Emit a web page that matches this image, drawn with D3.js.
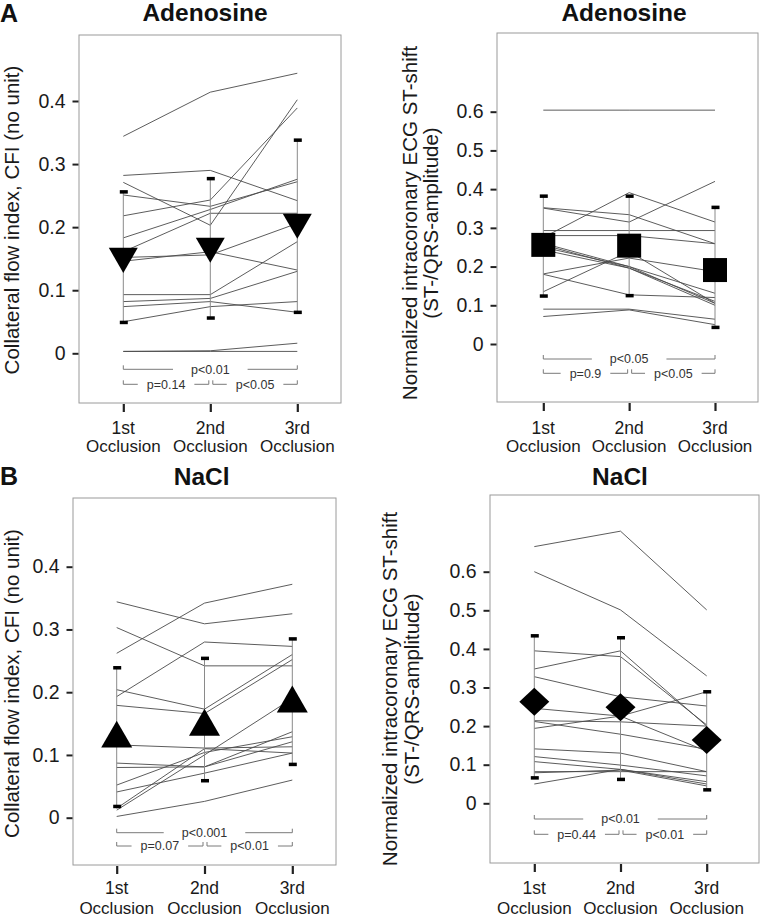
<!DOCTYPE html>
<html><head><meta charset="utf-8">
<script src="https://cdn.jsdelivr.net/npm/d3@7"></script>
<style>
html,body{margin:0;padding:0;background:#fff;}
svg{display:block;font-family:"Liberation Sans",Arial,Helvetica,sans-serif;}
</style></head>
<body>
<svg id="c" width="760" height="919"></svg>
<script>
// ---------- DATA ----------
const categories = ["1st", "2nd", "3rd"];
const catSubLabel = "Occlusion";

const cfiTicks = [0, 0.1, 0.2, 0.3, 0.4];
const stTicks = [0, 0.1, 0.2, 0.3, 0.4, 0.5, 0.6];

// Adenosine – collateral flow index, each row = one patient (1st, 2nd, 3rd occlusion)
const adoCFI = [
  [0.344, 0.414, 0.444],
  [0.282, 0.290, 0.242],
  [0.271, 0.203, 0.402],
  [0.251, 0.233, 0.272],
  [0.218, 0.243, 0.389],
  [0.183, 0.228, 0.276],
  [0.161, 0.222, 0.222],
  [0.146, 0.161, 0.132],
  [0.152, 0.156, 0.206],
  [0.093, 0.093, 0.177],
  [0.082, 0.087, 0.130],
  [0.074, 0.082, 0.065],
  [0.050, 0.074, 0.082],
  [0.003, 0.003, 0.003],
  [0.003, 0.004, 0.016]
];
const adoCFIMean = [0.154, 0.170, 0.208];
const adoCFILow  = [0.049, 0.056, 0.065];
const adoCFIHigh = [0.256, 0.277, 0.338];
const adoCFIp = ["p<0.01", "p=0.14", "p<0.05"];

// Adenosine – ECG ST-shift
const adoST = [
  [0.604, 0.604, 0.604],
  [0.352, 0.334, 0.259],
  [0.351, 0.315, 0.420],
  [0.275, 0.391, 0.315],
  [0.293, 0.293, 0.293],
  [0.280, 0.280, 0.259],
  [0.260, 0.200, 0.131],
  [0.256, 0.196, 0.110],
  [0.250, 0.200, 0.105],
  [0.243, 0.196, 0.100],
  [0.181, 0.222, 0.187],
  [0.180, 0.127, 0.120],
  [0.135, 0.239, 0.105],
  [0.090, 0.090, 0.064],
  [0.071, 0.088, 0.050]
];
const adoSTMean = [0.256, 0.254, 0.191];
const adoSTLow  = [0.124, 0.125, 0.043];
const adoSTHigh = [0.382, 0.382, 0.353];
const adoSTp = ["p<0.05", "p=0.9", "p<0.05"];

// NaCl – collateral flow index
const naclCFI = [
  [0.344, 0.309, 0.325],
  [0.262, 0.342, 0.372],
  [0.303, 0.242, 0.242],
  [0.193, 0.280, 0.273],
  [0.204, 0.173, 0.260],
  [0.179, 0.166, 0.252],
  [0.116, 0.111, 0.113],
  [0.087, 0.081, 0.137],
  [0.080, 0.081, 0.121],
  [0.052, 0.104, 0.129],
  [0.041, 0.071, 0.103],
  [0.012, 0.100, 0.190],
  [0.015, 0.110, 0.103],
  [0.002, 0.026, 0.060]
];
const naclCFIMean = [0.126, 0.145, 0.182];
const naclCFILow  = [0.018, 0.059, 0.085];
const naclCFIHigh = [0.239, 0.254, 0.285];
const naclCFIp = ["p<0.001", "p=0.07", "p<0.01"];

// NaCl – ECG ST-shift
const naclST = [
  [0.665, 0.705, 0.501],
  [0.600, 0.501, 0.330],
  [0.395, 0.380, 0.203],
  [0.348, 0.395, 0.200],
  [0.328, 0.276, 0.252],
  [0.246, 0.226, 0.135],
  [0.214, 0.211, 0.200],
  [0.212, 0.179, 0.140],
  [0.194, 0.226, 0.289],
  [0.141, 0.130, 0.082],
  [0.121, 0.099, 0.071],
  [0.108, 0.088, 0.050],
  [0.082, 0.082, 0.082],
  [0.079, 0.086, 0.045],
  [0.050, 0.088, 0.056]
];
const naclSTMean = [0.263, 0.249, 0.164];
const naclSTLow  = [0.066, 0.062, 0.035];
const naclSTHigh = [0.434, 0.429, 0.289];
const naclSTp = ["p<0.01", "p=0.44", "p<0.01"];

const cfiLabel = ["Collateral flow index, CFI (no unit)"];
const stLabel = ["Normalized intracoronary ECG ST-shift", "(ST-/QRS-amplitude)"];

// ---------- LAYOUT ----------
const panels = [
  { letter: "A", title: "Adenosine", lines: adoCFI, mean: adoCFIMean, low: adoCFILow, high: adoCFIHigh, p: adoCFIp,
    ticks: cfiTicks, label: cfiLabel, marker: "tridown", markerSize: 29,
    frame: [79, 35, 341, 403], y0: 353.3, yTop: 101, yTopVal: 0.4, x: [123.3, 297.3],
    titleX: 205, titleY: 21, letterX: 0, letterY: 21.5, labelX: [18.5], labelY: 220,
    pRows: [369.3, 384.3], xl: [433.5, 452] },
  { title: "Adenosine", lines: adoST, mean: adoSTMean, low: adoSTLow, high: adoSTHigh, p: adoSTp,
    ticks: stTicks, label: stLabel, marker: "square", markerSize: 24,
    frame: [497, 33, 758, 402], y0: 344, yTop: 111.7, yTopVal: 0.6, x: [543.3, 715],
    titleX: 624, titleY: 21, labelX: [416.5, 437.5], labelY: 223,
    pRows: [359, 373.3], xl: [433.5, 452] },
  { letter: "B", title: "NaCl", lines: naclCFI, mean: naclCFIMean, low: naclCFILow, high: naclCFIHigh, p: naclCFIp,
    ticks: cfiTicks, label: cfiLabel, marker: "triup", markerSize: 31,
    frame: [73, 498, 336, 865], y0: 817.7, yTop: 566.7, yTopVal: 0.4, x: [116.7, 292.3],
    titleX: 201.7, titleY: 484.5, letterX: 0, letterY: 485, labelX: [18.5], labelY: 683.5,
    pRows: [832.7, 846], xl: [894, 913.5] },
  { title: "NaCl", lines: naclST, mean: naclSTMean, low: naclSTLow, high: naclSTHigh, p: naclSTp,
    ticks: stTicks, label: stLabel, marker: "diamond", markerSize: 30,
    frame: [490, 495, 759, 863], y0: 803.3, yTop: 571.7, yTopVal: 0.6, x: [534.3, 706.7],
    titleX: 620, titleY: 485, labelX: [396.5, 418.5], labelY: 689,
    pRows: [819, 834.3], xl: [893.5, 913.5] }
];

const svg = d3.select("#c");

function markerPath(type, s) {
  if (type === "tridown" || type === "triup") {
    const h = s * Math.sqrt(3) / 2;
    const p = d3.path();
    if (type === "tridown") {
      p.moveTo(-s / 2, -h / 3); p.lineTo(s / 2, -h / 3); p.lineTo(0, 2 * h / 3);
    } else {
      p.moveTo(0, -2 * h / 3); p.lineTo(s / 2, h / 3); p.lineTo(-s / 2, h / 3);
    }
    p.closePath();
    return p.toString();
  }
  if (type === "square") {
    const p = d3.path(); p.rect(-s / 2, -s / 2, s, s); return p.toString();
  }
  const p = d3.path();
  p.moveTo(0, -s / 2 + 1); p.lineTo(s / 2, 0); p.lineTo(0, s / 2 - 1); p.lineTo(-s / 2, 0); p.closePath();
  return p.toString();
}

panels.forEach(P => {
  const [fx0, fy0, fx1, fy1] = P.frame;
  const x = d3.scalePoint().domain(categories).range(P.x);
  const y = d3.scaleLinear().domain([0, P.yTopVal]).range([P.y0, P.yTop]);
  const g = svg.append("g");

  // frame
  g.append("rect").attr("x", fx0).attr("y", fy0).attr("width", fx1 - fx0).attr("height", fy1 - fy0)
    .attr("fill", "none").attr("stroke", "#9a9a9a").attr("stroke-width", 1);

  // y axis
  const yAxis = d3.axisLeft(y).tickValues(P.ticks).tickSize(6).tickPadding(7)
    .tickFormat(d => d === 0 ? "0" : d3.format(".1f")(d));
  const ya = g.append("g").attr("transform", `translate(${fx0 - 0.5},0)`).call(yAxis);
  ya.select(".domain").remove();
  ya.selectAll(".tick line").attr("stroke", "#222").attr("stroke-width", 2);
  ya.selectAll(".tick text").attr("font-size", 19.5).attr("fill", "#1a1a1a")
    .attr("font-family", '"Liberation Sans",Arial,sans-serif');

  // x axis
  const xAxis = d3.axisBottom(x).tickSize(8).tickFormat("");
  const xa = g.append("g").attr("transform", `translate(0,${fy1 + 1})`).call(xAxis);
  xa.select(".domain").remove();
  xa.selectAll(".tick line").attr("stroke", "#222").attr("stroke-width", 2.2);
  categories.forEach(c => {
    g.append("text").attr("x", x(c)).attr("y", P.xl[0]).attr("text-anchor", "middle")
      .attr("font-size", 17.5).attr("fill", "#1a1a1a").text(c);
    g.append("text").attr("x", x(c)).attr("y", P.xl[1]).attr("text-anchor", "middle")
      .attr("font-size", 17).attr("fill", "#1a1a1a").text(catSubLabel);
  });

  // title, letter
  g.append("text").attr("x", P.titleX).attr("y", P.titleY).attr("text-anchor", "middle")
    .attr("font-size", 24.5).attr("font-weight", "bold").attr("fill", "#111").text(P.title);
  if (P.letter) {
    g.append("text").attr("x", P.letterX).attr("y", P.letterY).attr("font-size", 25)
      .attr("font-weight", "bold").attr("fill", "#111").text(P.letter);
  }

  // y label
  P.label.forEach((t, i) => {
    g.append("text").attr("transform", `translate(${P.labelX[i]},${P.labelY}) rotate(-90)`)
      .attr("text-anchor", "middle").attr("font-size", 20.5).attr("fill", "#1a1a1a").text(t);
  });

  // patient lines
  const line = d3.line().x((d, i) => x(categories[i])).y(d => y(d));
  g.append("g").selectAll("path").data(P.lines).join("path")
    .attr("d", line).attr("fill", "none").attr("stroke", "#4a4a4a").attr("stroke-width", 0.9);

  // error bars
  categories.forEach((c, i) => {
    g.append("line").attr("x1", x(c)).attr("x2", x(c)).attr("y1", y(P.low[i])).attr("y2", y(P.high[i]))
      .attr("stroke", "#8a8a8a").attr("stroke-width", 1);
    [P.low[i], P.high[i]].forEach(v => {
      g.append("rect").attr("x", x(c) - 3.5).attr("y", y(v) - 1.7).attr("width", 8).attr("height", 3.5)
        .attr("fill", "#000");
    });
  });

  // means
  g.append("g").selectAll("path").data(P.mean).join("path")
    .attr("transform", (d, i) => `translate(${x(categories[i])},${y(d)})`)
    .attr("d", markerPath(P.marker, P.markerSize)).attr("fill", "#000");

  // p-value brackets
  const pg = g.append("g").attr("stroke", "#7a7a7a").attr("stroke-width", 1).attr("fill", "none");
  function bracket(xa0, xa1, yy, label, pad) {
    const tx = (xa0 + xa1) / 2;
    const t = g.append("text").attr("x", tx).attr("y", yy + 4.3).attr("text-anchor", "middle")
      .attr("font-size", 12.5).attr("fill", "#333").text(label);
    const w = t.node().getComputedTextLength();
    const gl = tx - w / 2 - pad, gr = tx + w / 2 + pad;
    pg.append("path").attr("d", `M${xa0},${yy - 4}V${yy}H${gl}M${gr},${yy}H${xa1}V${yy - 4}`);
  }
  const x1 = x(categories[0]), x2 = x(categories[1]), x3 = x(categories[2]);
  bracket(x1, x3, P.pRows[0], P.p[0], 18);
  bracket(x1, x2 - 1.5, P.pRows[1], P.p[1], 9);
  bracket(x2 + 2.5, x3, P.pRows[1], P.p[2], 9);
});
</script>
</body></html>
